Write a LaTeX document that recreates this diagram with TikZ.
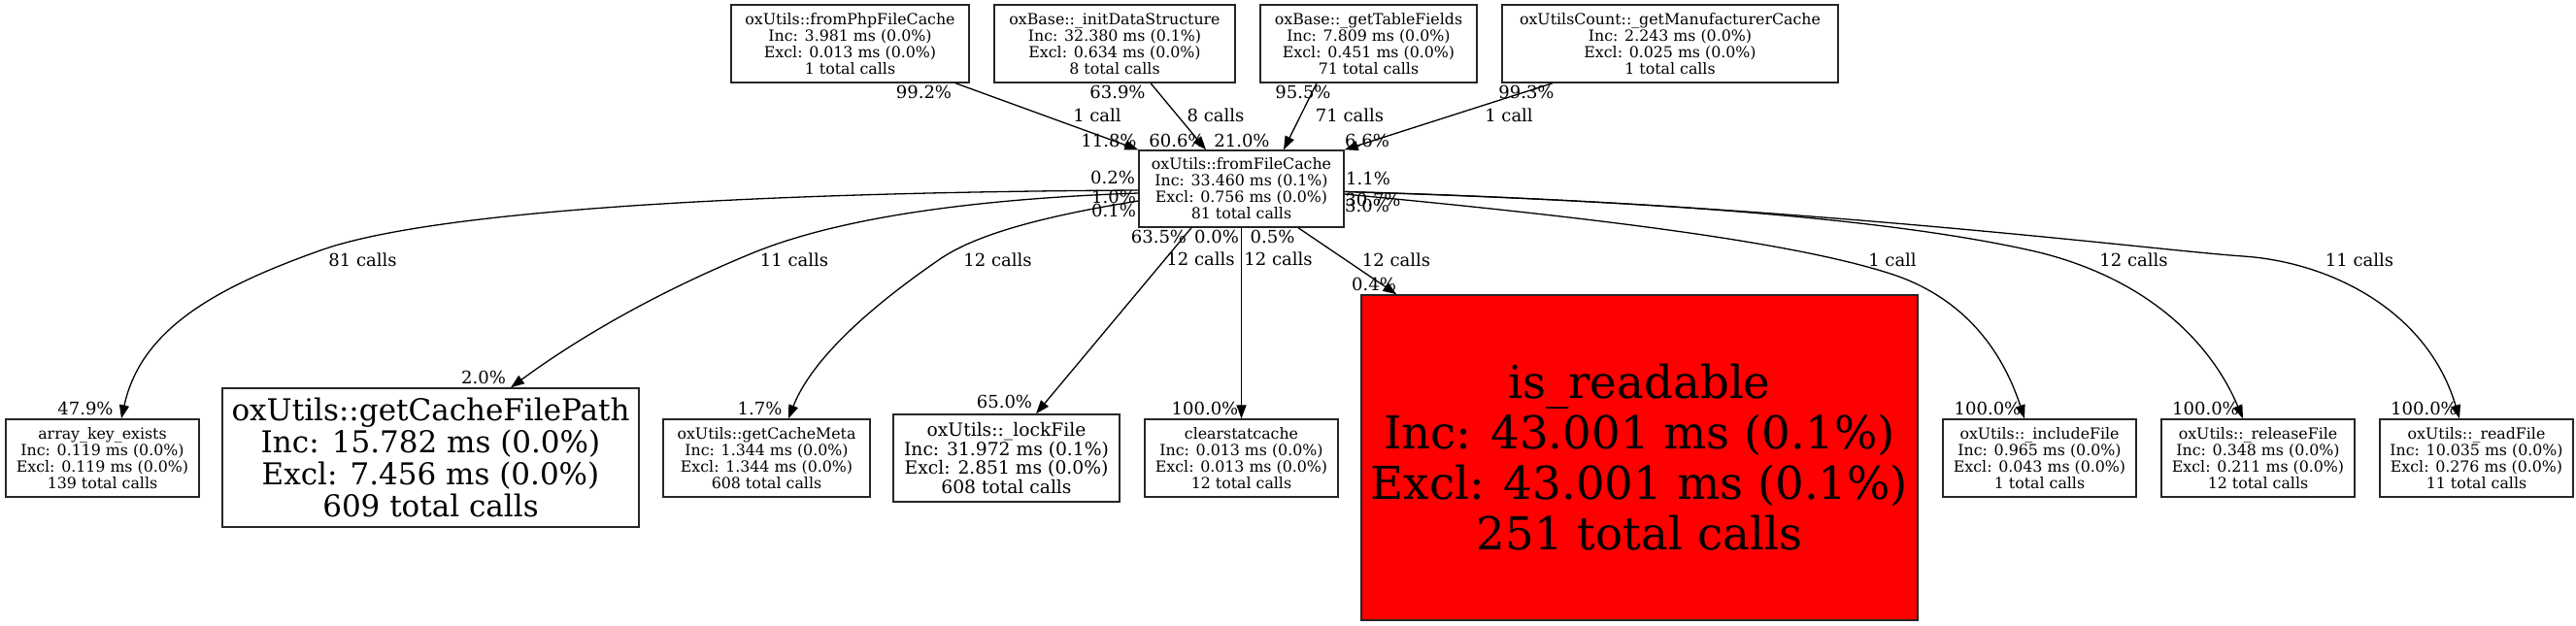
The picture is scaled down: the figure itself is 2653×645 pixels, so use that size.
\documentclass[tikz,border=0pt]{standalone}
\usepackage{fontspec}
\setmainfont{DejaVu Serif}
\usetikzlibrary{arrows.meta}

\tikzset{
    fn/.style={draw=black!85, line width=1.4pt, rectangle, inner sep=0pt, align=center,
        font=\fontsize{15.8}{17}\selectfont, minimum width=199, minimum height=80},
    call/.style={line width=1.3pt, -{Triangle[length=14pt,width=10pt]}},
    lbl/.style={font=\fontsize{18}{20}\selectfont, inner sep=0pt},
}

\begin{document}
\begin{tikzpicture}[x=1pt,y=-1pt]
    \useasboundingbox (0,0) rectangle (2653,645);

    % Draw the callers in the top row
    \node[fn, minimum width=245] (phpcache) at (875.5,45) {oxUtils::fromPhpFileCache\\Inc: 3.981 ms (0.0\%)\\Excl: 0.013 ms (0.0\%)\\1 total calls};
    \node[fn, minimum width=248] (initdata) at (1148,45) {oxBase::\_initDataStructure\\Inc: 32.380 ms (0.1\%)\\Excl: 0.634 ms (0.0\%)\\8 total calls};
    \node[fn, minimum width=223] (tablefields) at (1409.5,45) {oxBase::\_getTableFields\\Inc: 7.809 ms (0.0\%)\\Excl: 0.451 ms (0.0\%)\\71 total calls};
    \node[fn, minimum width=346] (manucache) at (1720,45) {oxUtilsCount::\_getManufacturerCache\\Inc: 2.243 ms (0.0\%)\\Excl: 0.025 ms (0.0\%)\\1 total calls};

    % Draw the function in the middle
    \node[fn, minimum width=211, minimum height=79] (filecache) at (1278.5,194.5) {oxUtils::fromFileCache\\Inc: 33.460 ms (0.1\%)\\Excl: 0.756 ms (0.0\%)\\81 total calls};

    % Draw the callees in the bottom row
    \node[fn] (keyexists) at (105.5,472) {array\_key\_exists\\Inc: 0.119 ms (0.0\%)\\Excl: 0.119 ms (0.0\%)\\139 total calls};
    \node[fn, minimum width=429, minimum height=143, font=\fontsize{31}{33}\selectfont] (filepath) at (443.5,471.5) {oxUtils::getCacheFilePath\\Inc: 15.782 ms (0.0\%)\\Excl: 7.456 ms (0.0\%)\\609 total calls};
    \node[fn, minimum width=213] (cachemeta) at (789.5,472) {oxUtils::getCacheMeta\\Inc: 1.344 ms (0.0\%)\\Excl: 1.344 ms (0.0\%)\\608 total calls};
    \node[fn, minimum width=233, minimum height=90, font=\fontsize{18.7}{19.5}\selectfont] (lockfile) at (1036.5,472) {oxUtils::\_lockFile\\Inc: 31.972 ms (0.1\%)\\Excl: 2.851 ms (0.0\%)\\608 total calls};
    \node[fn] (clearstat) at (1278.5,472) {clearstatcache\\Inc: 0.013 ms (0.0\%)\\Excl: 0.013 ms (0.0\%)\\12 total calls};
    \node[fn, fill=red, minimum width=573, minimum height=335, font=\fontsize{46.7}{52}\selectfont] (readable) at (1688.5,471.5) {is\_readable\\Inc: 43.001 ms (0.1\%)\\Excl: 43.001 ms (0.1\%)\\251 total calls};
    \node[fn] (includefile) at (2100.5,472) {oxUtils::\_includeFile\\Inc: 0.965 ms (0.0\%)\\Excl: 0.043 ms (0.0\%)\\1 total calls};
    \node[fn] (releasefile) at (2325.5,472) {oxUtils::\_releaseFile\\Inc: 0.348 ms (0.0\%)\\Excl: 0.211 ms (0.0\%)\\12 total calls};
    \node[fn] (readfile) at (2550.5,472) {oxUtils::\_readFile\\Inc: 10.035 ms (0.0\%)\\Excl: 0.276 ms (0.0\%)\\11 total calls};

    % Draw the incoming calls
    \draw[call] ([xshift=108.5pt]phpcache.south) -- (filecache.north west);
    \draw[call] ([xshift=37pt]initdata.south) -- ([xshift=-36.5pt]filecache.north);
    \draw[call] ([xshift=-53.5pt]tablefields.south) -- ([xshift=43.5pt]filecache.north);
    \draw[call] ([xshift=-121pt]manucache.south) -- (filecache.north east);

    % Draw the outgoing calls
    \draw[call] ([yshift=-1.5pt]filecache.west) .. controls (800,198) and (450,215) .. (330,258)
        .. controls (220,297) and (145,340) .. ([xshift=19.5pt]keyexists.north);
    \draw[call] ([yshift=-4.5pt]filecache.west) .. controls (1000,205) and (860,225) .. (772,262)
        .. controls (680,300) and (600,345) .. ([xshift=82.5pt]filepath.north);
    \draw[call] ([yshift=-12.5pt]filecache.west) .. controls (1060,225) and (1000,245) .. (968,267)
        .. controls (920,300) and (840,360) .. ([xshift=22.5pt]cachemeta.north);
    \draw[call] ([xshift=-51.5pt]filecache.south) -- ([xshift=30.5pt]lockfile.north);
    \draw[call] (filecache.south) -- (clearstat.north);
    \draw[call] ([xshift=58.5pt]filecache.south) -- ([xshift=37pt]readable.north west);
    \draw[call] ([yshift=-5.5pt]filecache.east) .. controls (1650,225) and (1850,250) .. (1950,283)
        .. controls (2030,310) and (2065,370) .. ([xshift=-15.5pt]includefile.north);
    \draw[call] ([yshift=-3pt]filecache.east) .. controls (1700,207) and (1950,225) .. (2100,260)
        .. controls (2220,290) and (2280,360) .. ([xshift=-15.5pt]releasefile.north);
    \draw[call] ([yshift=-3pt]filecache.east) .. controls (1850,210) and (2220,258) .. (2310,264)
        .. controls (2400,270) and (2500,320) .. ([xshift=-17.5pt]readfile.north);

    % Draw the call counts and percentages
    \foreach \x/\y/\label [count=\i] in {951.5/94.5/99.2\%, 1130/119/1 call, 1142/145/11.8\%,
        1151/94.5/63.9\%, 1252/119/8 calls, 1212/145/60.6\%,
        1342/94.5/95.5\%, 1390/119/71 calls, 1279/145/21.0\%,
        1572/94.5/99.3\%, 1554/119/1 call, 1408/145/6.6\%,
        1146/183/0.2\%, 1147/203/1.0\%, 1147/217/0.1\%,
        1409/184/1.1\%, 1414/206/30.7\%, 1408/212/3.0\%,
        1193.5/244/63.5\%, 1253/244/0.0\%, 1310.5/244/0.5\%,
        1236.5/267/12 calls, 1316.5/267/12 calls, 1438/268/12 calls, 1415/293/0.4\%,
        373.5/268/81 calls, 818/268/11 calls, 1027.5/268/12 calls,
        88/421/47.9\%, 498/389/2.0\%, 782.5/421/1.7\%, 1034.5/414/65.0\%, 1241/421/100.0\%,
        1949/268/1 call, 2197.5/268/12 calls, 2430/268/11 calls,
        2047/421/100.0\%, 2271.5/421/100.0\%, 2496.5/421/100.0\%} {
        \node[lbl] (lab\i) at (\x,\y) {\label};
    }

\end{tikzpicture}
\end{document}
